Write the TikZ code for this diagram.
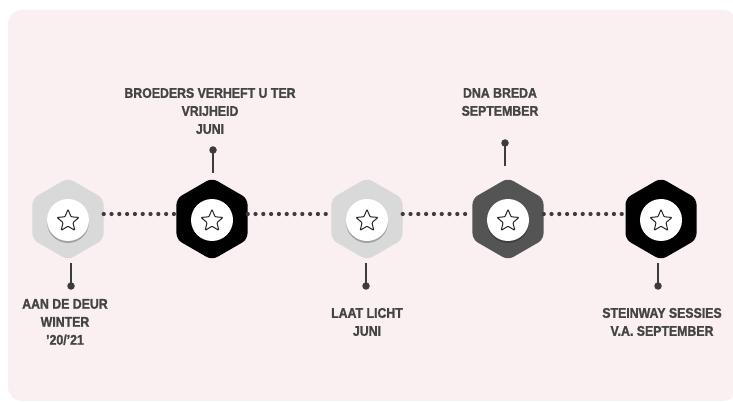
\documentclass[tikz,border=0pt]{standalone}
\usepackage{fontspec}
\setmainfont{Liberation Sans}[FakeStretch=0.88, BoldFeatures={FakeBold=1.3}]
\usetikzlibrary{shapes.geometric,shadows}
\definecolor{bgpink}{RGB}{250,239,241}
\definecolor{txt}{RGB}{68,68,68}
\definecolor{hexlight}{RGB}{217,217,217}
\definecolor{hexdark}{RGB}{84,84,84}
\definecolor{dotc}{RGB}{60,60,60}
\tikzset{
  hexa/.style={regular polygon, regular polygon sides=6, shape border rotate=90,
    minimum size=82pt, inner sep=0pt, rounded corners=6pt, draw=none, fill=#1},
  wcirc/.style={circle, fill=white, minimum size=42pt, inner sep=0pt,
    drop shadow={shadow xshift=0pt, shadow yshift=-2pt, opacity=.25, fill=black}},
  starn/.style={star, star points=5, star point ratio=2.2, minimum size=23pt,
    inner sep=0pt, draw=black!85, line width=1pt, rounded corners=0.8pt},
  dotline/.style={draw=dotc, line width=4.2pt, line cap=round, dash pattern=on 0pt off 7.8pt},
  stemdot/.style={circle, fill=dotc, minimum size=7.5pt, inner sep=0pt},
  stemline/.style={draw=dotc, line width=2.2pt},
  lbl/.style={align=center, text=txt, font=\fontsize{14}{18}\selectfont\bfseries, inner sep=0pt}
}
\begin{document}
\begin{tikzpicture}[x=1pt,y=-1pt]
\useasboundingbox (0,0) rectangle (733,403);
\fill[bgpink, rounded corners=14pt] (8,10) rectangle (737,401);

% hexagons
\node[hexa=hexlight] (h1) at (68,219) {};
\node[hexa=black]    (h2) at (212,219) {};
\node[hexa=hexlight] (h3) at (367,219) {};
\node[hexa=hexdark]  (h4) at (508,219) {};
\node[hexa=black]    (h5) at (661,219) {};

% dotted connectors
\draw[dotline] ([yshift=5pt]h1.east) -- ([yshift=5pt]h2.west);
\draw[dotline] ([yshift=5pt]h2.east) -- ([yshift=5pt]h3.west);
\draw[dotline] ([yshift=5pt]h3.east) -- ([yshift=5pt]h4.west);
\draw[dotline] ([yshift=5pt]h4.east) -- ([yshift=5pt]h5.west);

% circles and stars
\foreach \i/\x in {1/68,2/212,3/367,4/508,5/661}{
  \node[wcirc] (c\i) at (\x,220) {};
  \node[starn] (s\i) at (\x,221) {};
}

% stems
\node[stemdot] (d1) at (71,286) {};  \coordinate (t1) at (71,263);
\node[stemdot] (d2) at (213,150) {}; \coordinate (t2) at (213,173);
\node[stemdot] (d3) at (366,286) {}; \coordinate (t3) at (366,263);
\node[stemdot] (d4) at (505,143) {}; \coordinate (t4) at (505,166);
\node[stemdot] (d5) at (658,286) {}; \coordinate (t5) at (658,263);
\foreach \i in {1,...,5}{ \draw[stemline] (d\i.center) -- (t\i); }

% labels
\node[lbl] (l1) at (65,322) {AAN DE DEUR\\WINTER\\'20/'21};
\node[lbl] (l2) at (210,111) {BROEDERS VERHEFT U TER\\VRIJHEID\\JUNI};
\node[lbl] (l3) at (367,322) {LAAT LICHT\\JUNI};
\node[lbl] (l4) at (500,102) {DNA BREDA\\SEPTEMBER};
\node[lbl] (l5) at (662,322) {STEINWAY SESSIES\\V.A. SEPTEMBER};
\end{tikzpicture}
\end{document}
